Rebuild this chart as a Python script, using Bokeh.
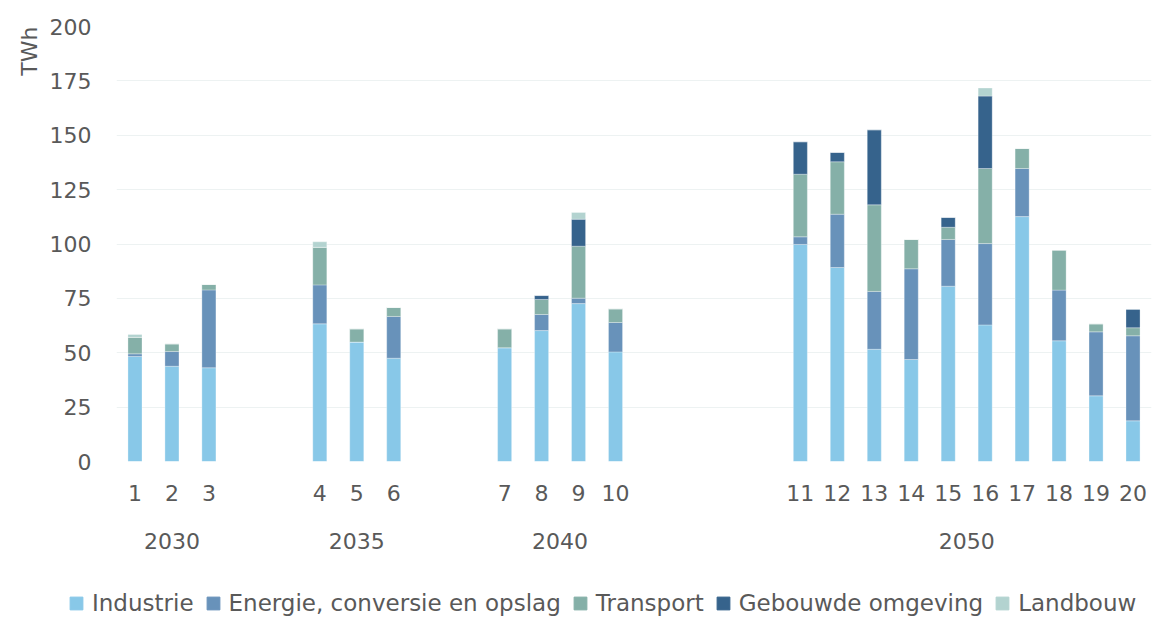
from bokeh.plotting import figure
from bokeh.models import (ColumnDataSource, FixedTicker, LinearAxis, Legend,
                          LegendItem, Title, Range1d)
from bokeh.embed import file_html
from bokeh.resources import INLINE

# ---- data ----
scenarios = [str(i) for i in range(1, 21)]
years = ["2030", "2035", "2040", "2050"]
scenario_year = ["2030"] * 3 + ["2035"] * 3 + ["2040"] * 4 + ["2050"] * 10
series = ["Industrie", "Energie, conversie en opslag", "Transport",
          "Gebouwde omgeving", "Landbouw"]

industrie = [48.3, 43.8, 43.1, 63.3, 54.9, 47.5, 52.3, 60.2, 72.6, 50.4,
             99.8, 89.2, 51.6, 46.9, 80.6, 62.8, 112.6, 55.5, 30.2, 18.7]
energie = [1.2, 6.8, 35.8, 17.9, 0.0, 19.2, 0.0, 7.4, 2.5, 13.5,
           3.5, 24.5, 26.6, 41.7, 21.5, 37.4, 22.1, 23.3, 29.4, 39.1]
transport = [7.6, 3.5, 2.5, 17.3, 6.1, 4.1, 8.7, 6.9, 23.9, 6.3,
             28.8, 24.1, 39.8, 13.5, 5.6, 34.5, 9.2, 18.4, 3.7, 3.7]
gebouwde = [0.0, 0.0, 0.0, 0.0, 0.0, 0.0, 0.0, 1.8, 12.4, 0.0,
            14.9, 4.3, 34.5, 0.0, 4.5, 33.3, 0.0, 0.0, 0.0, 8.5]
landbouw = [1.3, 0.0, 0.0, 2.5, 0.0, 0.0, 0.0, 0.0, 3.1, 0.0,
            0.0, 0.0, 0.0, 0.0, 0.0, 3.7, 0.0, 0.0, 0.0, 0.0]
y_ticks = [0, 25, 50, 75, 100, 125, 150, 175, 200]

colors = ["#88C8E8", "#6892BA", "#85B0A8", "#36638C", "#B3D3D0"]

# ---- layout of slots (gaps between year groups) ----
gap_before = {"2030": 0, "2035": 2, "2040": 2, "2050": 4}
xs = []
pos = -1
prev = None
for yr in scenario_year:
    if yr != prev:
        pos += gap_before[yr]
        prev = yr
    pos += 1
    xs.append(pos)

group_centers = {}
for yr in years:
    members = [x for x, y in zip(xs, scenario_year) if y == yr]
    group_centers[yr] = (members[0] + members[-1]) / 2

keys = ["ind", "ene", "tra", "geb", "lan"]
source = ColumnDataSource(dict(x=xs, ind=industrie, ene=energie, tra=transport,
                               geb=gebouwde, lan=landbouw))

FONT = "DejaVu Sans"
TXT = "#595959"
W = 1160

p = figure(width=W, height=576, output_backend="svg", toolbar_location=None,
           x_range=Range1d(-0.5, xs[-1] + 0.5), y_range=Range1d(0, 200),
           min_border_left=116, min_border_right=9, min_border_top=26,
           min_border_bottom=115)
p.outline_line_color = None
p.xaxis.visible = False

p.vbar_stack(keys, x="x", width=0.38, source=source, color=colors,
             line_color="white", line_width=0.6, line_alpha=0.5)

# y axis
p.yaxis.ticker = FixedTicker(ticks=y_ticks)
p.yaxis.axis_line_color = None
p.yaxis.major_tick_line_color = None
p.yaxis.minor_tick_line_color = None
p.yaxis.major_label_text_font = FONT
p.yaxis.major_label_text_font_size = "22px"
p.yaxis.major_label_text_color = TXT
p.yaxis.major_label_standoff = 19
p.ygrid.grid_line_color = "#EDF2F2"
p.xgrid.grid_line_color = None

p.add_layout(Title(text="TWh", align="right", text_font=FONT,
                   text_font_size="22px", text_font_style="normal",
                   text_color=TXT), "left")

# x axis: scenario numbers
ax1 = LinearAxis(ticker=FixedTicker(ticks=xs),
                 major_label_overrides={x: s for x, s in zip(xs, scenarios)})
# x axis: years
ax2 = LinearAxis(ticker=FixedTicker(ticks=list(group_centers.values())),
                 major_label_overrides={group_centers[y]: y for y in years})
for ax, st in ((ax1, 17), (ax2, 23)):
    ax.axis_line_color = None
    ax.major_tick_line_color = None
    ax.minor_tick_line_color = None
    ax.major_label_text_font = FONT
    ax.major_label_text_font_size = "22px"
    ax.major_label_text_color = TXT
    ax.major_label_standoff = st
    p.add_layout(ax, "below")

# ---- legend strip (separate root, placeholder glyphs outside its range) ----
lg = figure(width=W, height=40, output_backend="svg", toolbar_location=None,
            x_axis_type=None, y_axis_type=None, min_border=0,
            x_range=Range1d(0, 1), y_range=Range1d(0, 1))
lg.outline_line_color = None
lg.xgrid.grid_line_color = None
lg.ygrid.grid_line_color = None
dummies = [lg.vbar(x=[-5], top=[0], bottom=[0], width=0.1, color=c)
           for c in colors]
legend = Legend(items=[LegendItem(label=s, renderers=[r])
                       for s, r in zip(series, dummies)],
                orientation="horizontal", location=(68, 0),
                label_text_font=FONT, label_text_font_size="23px",
                label_text_color=TXT, glyph_width=16, glyph_height=16,
                label_standoff=8, spacing=11, padding=0, margin=0,
                border_line_color=None, background_fill_alpha=0)
lg.add_layout(legend, "center")

open("out.html", "w").write(file_html([p, lg], INLINE))
